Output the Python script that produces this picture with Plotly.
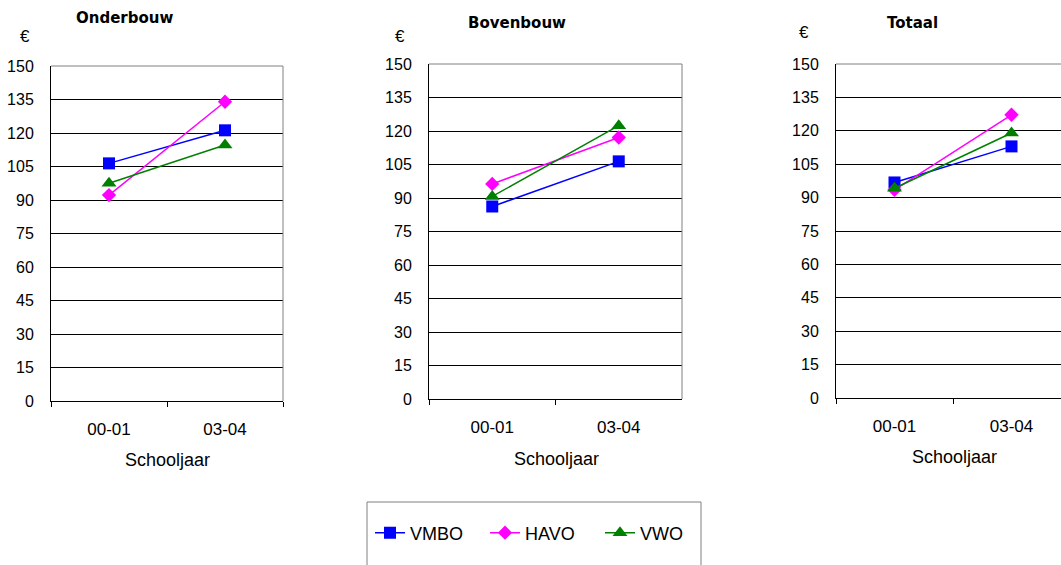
import plotly.graph_objects as go

categories = ["00-01", "03-04"]
series_names = ["VMBO", "HAVO", "VWO"]
panel_titles = ["Onderbouw", "Bovenbouw", "Totaal"]

onderbouw_vmbo = [106.4, 121.2]
onderbouw_havo = [92.2, 134.0]
onderbouw_vwo = [97.5, 114.6]

bovenbouw_vmbo = [86.2, 106.4]
bovenbouw_havo = [96.3, 117.1]
bovenbouw_vwo = [90.7, 122.4]

totaal_vmbo = [96.8, 113.0]
totaal_havo = [93.5, 127.2]
totaal_vwo = [94.2, 119.0]

y_ticks = [0, 15, 30, 45, 60, 75, 90, 105, 120, 135, 150]

W, H = 1061, 565
FONT = "Arial, Liberation Sans, sans-serif"
TITLE_FONT = "DejaVu Sans, Arial, sans-serif"

colors = {"VMBO": "#0000FF", "HAVO": "#FF00FF", "VWO": "#008000"}
symbols = {"VMBO": "square", "HAVO": "diamond", "VWO": "triangle-up"}
msizes = {"VMBO": 12, "HAVO": 11, "VWO": 13}

panels = [
    {"data": {"VMBO": onderbouw_vmbo, "HAVO": onderbouw_havo, "VWO": onderbouw_vwo},
     "px": (51, 283), "py": (66, 401), "xr": [-0.5, 1.5],
     "title": (124, 18), "euro": (25, 36), "xt": (167, 460)},
    {"data": {"VMBO": bovenbouw_vmbo, "HAVO": bovenbouw_havo, "VWO": bovenbouw_vwo},
     "px": (429, 682), "py": (64, 399), "xr": [-0.5, 1.5],
     "title": (517, 23), "euro": (400, 36), "xt": (556, 459)},
    {"data": {"VMBO": totaal_vmbo, "HAVO": totaal_havo, "VWO": totaal_vwo},
     "px": (836, 1061), "py": (64, 398), "xr": [-0.5, 1.423],
     "title": (912, 23), "euro": (804, 33), "xt": (954, 457)},
]

fig = go.Figure()
annotations = []
shapes = []

for i, p in enumerate(panels):
    sfx = "" if i == 0 else str(i + 1)
    xa, ya = "x" + sfx, "y" + sfx
    for name in series_names:
        fig.add_trace(go.Scatter(
            x=categories, y=p["data"][name], mode="lines+markers", name=name,
            xaxis=xa, yaxis=ya, showlegend=(i == 0),
            line=dict(color=colors[name], width=1.5),
            marker=dict(symbol=symbols[name], size=msizes[name], color=colors[name],
                        line=dict(width=0)),
        ))
    x0, x1 = p["px"]
    y0, y1 = p["py"]
    xdom = [x0 / W, x1 / W]
    ydom = [(H - y1) / H, (H - y0) / H]
    fig.update_layout(**{
        "xaxis" + sfx: dict(domain=xdom, anchor=ya, type="category", range=p["xr"],
                            tickson="boundaries", ticks="outside", ticklen=5, tickcolor="black",
                            showline=True, linecolor="black", linewidth=1, showgrid=False,
                            tickfont=dict(family=FONT, size=17, color="black"),
                            ticklabelstandoff=13, fixedrange=True, automargin=False),
        "yaxis" + sfx: dict(domain=ydom, anchor=xa, range=[0, 150], tickvals=y_ticks,
                            showgrid=True, gridcolor="black", gridwidth=1, zeroline=False,
                            showline=True, linecolor="black", linewidth=1, ticks="",
                            tickfont=dict(family=FONT, size=16, color="black"),
                            ticklabelstandoff=13, fixedrange=True, automargin=False),
    })
    # gray frame (top and right)
    shapes.append(dict(type="line", xref=xa + " domain", yref=ya + " domain",
                       x0=0, x1=1, y0=1, y1=1, line=dict(color="#808080", width=1), layer="above"))
    if p["xr"][1] >= 1.5:
        shapes.append(dict(type="line", xref=xa + " domain", yref=ya + " domain",
                           x0=1, x1=1, y0=0, y1=1, line=dict(color="#808080", width=1), layer="above"))
    tx, ty = p["title"]
    annotations.append(dict(text="<b>" + panel_titles[i] + "</b>", x=tx / W, y=(H - ty) / H,
                            xref="paper", yref="paper", showarrow=False, xanchor="center", yanchor="middle",
                            font=dict(family=TITLE_FONT, size=15, color="black")))
    ex, ey = p["euro"]
    annotations.append(dict(text="€", x=ex / W, y=(H - ey) / H, xref="paper", yref="paper",
                            showarrow=False, xanchor="center", yanchor="middle",
                            font=dict(family=FONT, size=17, color="black")))
    sx, sy = p["xt"]
    annotations.append(dict(text="Schooljaar", x=sx / W, y=(H - sy) / H, xref="paper", yref="paper",
                            showarrow=False, xanchor="center", yanchor="middle",
                            font=dict(family=FONT, size=18, color="black")))

# legend box
shapes.append(dict(type="rect", xref="paper", yref="paper", x0=367 / W, x1=701 / W,
                   y0=-0.02, y1=(H - 502) / H, line=dict(color="#808080", width=1),
                   fillcolor="rgba(0,0,0,0)"))

fig.update_layout(
    width=W, height=H, margin=dict(l=0, r=0, t=0, b=0, autoexpand=False),
    paper_bgcolor="white", plot_bgcolor="white",
    annotations=annotations, shapes=shapes,
    showlegend=True,
    legend=dict(orientation="h", x=370 / W, y=(H - 533) / H, xanchor="left", yanchor="middle",
                bgcolor="rgba(0,0,0,0)", borderwidth=0, entrywidth=70, entrywidthmode="pixels",
                font=dict(family=FONT, size=18, color="black"), itemclick=False, itemdoubleclick=False),
)

fig.write_html("out.html", config={"displayModeBar": False},
               post_script="document.body.style.margin='0';document.body.style.overflow='hidden';")
